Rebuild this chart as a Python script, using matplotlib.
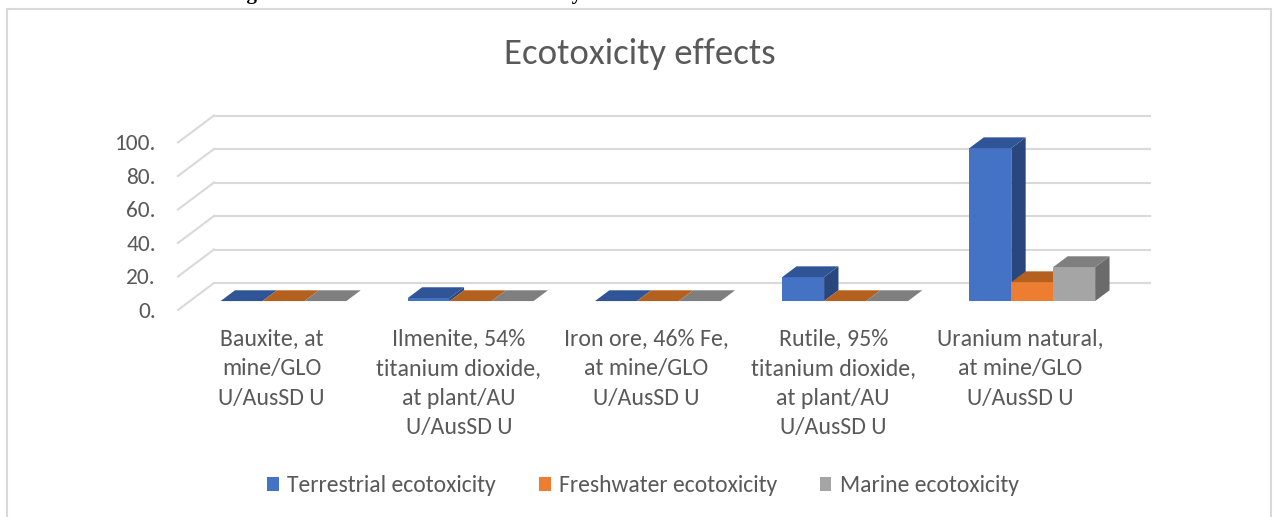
import matplotlib
matplotlib.use('Agg')
import matplotlib.pyplot as plt
from matplotlib.patches import Polygon, Rectangle, Patch

categories = ['Bauxite, at\nmine/GLO\nU/AusSD U',
              'Ilmenite, 54%\ntitanium dioxide,\nat plant/AU\nU/AusSD U',
              'Iron ore, 46% Fe,\nat mine/GLO\nU/AusSD U',
              'Rutile, 95%\ntitanium dioxide,\nat plant/AU\nU/AusSD U',
              'Uranium natural,\nat mine/GLO\nU/AusSD U']
series = ['Terrestrial ecotoxicity', 'Freshwater ecotoxicity', 'Marine ecotoxicity']
terrestrial = [0.0, 1.8, 0.0, 14.3, 91.3]
freshwater = [0.0, 0.0, 0.0, 0.0, 11.3]
marine = [0.0, 0.0, 0.0, 0.0, 20.3]
yticks = [0, 20, 40, 60, 80, 100]
ytick_labels = ['0.', '20.', '40.', '60.', '80.', '100.']

front_cols = ['#4472C4', '#ED7D31', '#A5A5A5']
top_cols = ['#2F5597', '#B4601F', '#7F7F7F']
side_cols = ['#29477D', '#8E4B18', '#6B6B6B']
text_col = '#595959'
grid_col = '#D9D9D9'

plt.rcParams['font.family'] = ['Carlito', 'Liberation Sans Narrow', 'Open Sans', 'DejaVu Sans']

W, H = 1274, 517
fig = plt.figure(figsize=(W / 100, H / 100), dpi=100)

# oblique "3D" projection, in data units
DX, DY = 0.192, 16.1       # full depth offset
D0, DD = 0.33, 0.40        # bar depth start / thickness
BW = 0.224                 # bar width

px_x = 187.2
px_y = 1.675
xlim = (0, 5.3)
ylim = (-3, 120)
left_px, bottom_px = 178, 315
ax = fig.add_axes([left_px / W, (H - bottom_px) / H,
                   (xlim[1] - xlim[0]) * px_x / W, (ylim[1] - ylim[0]) * px_y / H])
ax.set_xlim(*xlim)
ax.set_ylim(*ylim)
for s in ax.spines.values():
    s.set_visible(False)

# back wall + side wall gridlines
for v in yticks:
    ax.plot([0, DX], [v, v + DY], color=grid_col, lw=1.5, zorder=1, clip_on=False)
    ax.plot([DX, 5 + DX], [v + DY, v + DY], color=grid_col, lw=1.5, zorder=1, clip_on=False)

values = [terrestrial, freshwater, marine]
z = 2
for i in range(len(categories)):
    for j, vals in enumerate(values):
        v = vals[i]
        xl = i + 0.5 - 1.5 * BW + j * BW + D0 * DX
        y0 = D0 * DY
        yt = y0 + v
        ox, oy = DD * DX, DD * DY
        ax.add_patch(Rectangle((xl, y0), BW, v, facecolor=front_cols[j], edgecolor='none', zorder=z))
        ax.add_patch(Polygon([(xl + BW, y0), (xl + BW + ox, y0 + oy), (xl + BW + ox, yt + oy), (xl + BW, yt)],
                             closed=True, facecolor=side_cols[j], edgecolor='none', zorder=z))
        ax.add_patch(Polygon([(xl, yt), (xl + BW, yt), (xl + BW + ox, yt + oy), (xl + ox, yt + oy)],
                             closed=True, facecolor=top_cols[j], edgecolor='none', zorder=z))
        z += 1

ax.set_yticks(yticks)
ax.set_yticklabels(ytick_labels)
ax.set_xticks([i + 0.5 for i in range(len(categories))])
ax.set_xticklabels(categories, linespacing=1.5)
ax.tick_params(axis='y', length=0, pad=16, labelsize=16.8, labelcolor=text_col)
ax.tick_params(axis='x', length=0, pad=10, labelsize=17.2, labelcolor=text_col)

fig.text(640 / W, 1 - 54 / H, 'Ecotoxicity effects', ha='center', va='center',
         fontsize=26.5, color=text_col)

handles = [Patch(facecolor=c, edgecolor='none') for c in front_cols]
fig.legend(handles, series, loc='center', bbox_to_anchor=(643 / W, 1 - 486 / H), ncol=3,
           frameon=False, fontsize=17, labelcolor=text_col, handlelength=0.5, handleheight=0.5,
           handletextpad=0.35, columnspacing=1.8)

# chart frame and clipped caption above it
fig.patches.append(Rectangle((7 / W, -0.02), 1264 / W, 1.02 - 9 / H, transform=fig.transFigure,
                             fill=False, edgecolor=grid_col, lw=1.5))
fig.text(228 / W, 1 + 1.5 / H, 'Figure 6: Human health and ecotoxicity results from the mineral industries.',
         ha='left', va='baseline', fontsize=15, fontweight='bold', family='Liberation Serif', color='black')

fig.savefig('out.png', dpi=100)
